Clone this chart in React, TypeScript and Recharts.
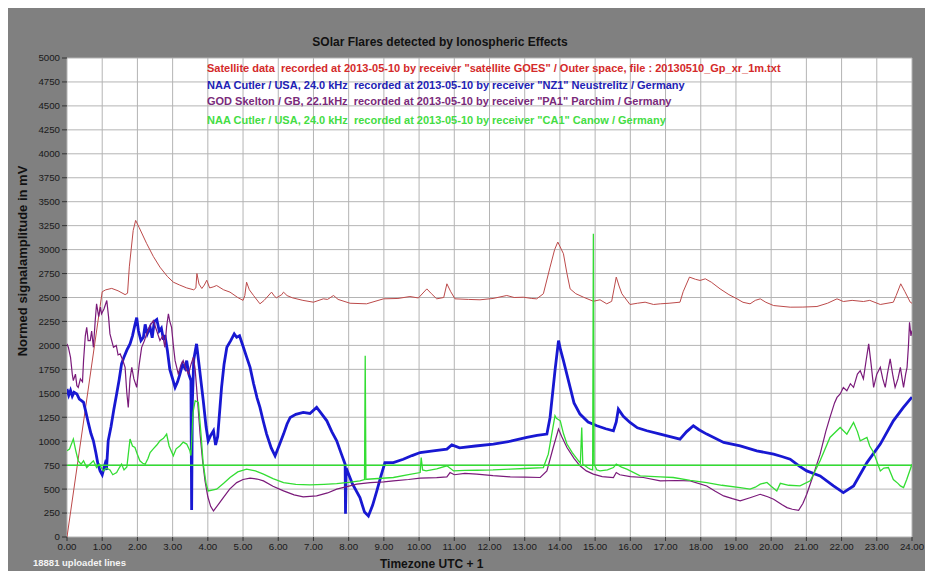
import React from "react";
import { LineChart, Line, XAxis, YAxis, CartesianGrid, ReferenceLine } from "recharts";

const TITLE = "SOlar Flares detected by Ionospheric Effects";
const LEGEND_SAT = 'Satellite data  recorded at 2013-05-10 by receiver "satellite GOES" / Outer space, file : 20130510_Gp_xr_1m.txt';
const LEGEND_NZ1 = 'NAA Cutler / USA, 24.0 kHz  recorded at 2013-05-10 by receiver "NZ1" Neustrelitz / Germany';
const LEGEND_PA1 = 'GOD Skelton / GB, 22.1kHz  recorded at 2013-05-10 by receiver "PA1" Parchim / Germany';
const LEGEND_CA1 = 'NAA Cutler / USA, 24.0 kHz  recorded at 2013-05-10 by receiver "CA1" Canow / Germany';
const Y_LABEL = "Normed signalamplitude in mV";
const X_LABEL = "Timezone UTC + 1";
const FOOTNOTE = "18881 uploadet lines";

const xTicks = [0, 1, 2, 3, 4, 5, 6, 7, 8, 9, 10, 11, 12, 13, 14, 15, 16, 17, 18, 19, 20, 21, 22, 23, 24];
const yTicks = [0, 250, 500, 750, 1000, 1250, 1500, 1750, 2000, 2250, 2500, 2750, 3000, 3250, 3500, 3750, 4000, 4250, 4500, 4750, 5000];
const thresholdLevel = 750;

// Satellite GOES
const satT = [0, 1.0, 1.1, 1.27, 1.45, 1.65, 1.72, 1.77, 1.88, 1.95, 2.05, 2.26, 2.45, 2.64, 2.85, 3.02, 3.2, 3.4, 3.6, 3.66, 3.69, 3.75, 3.83, 3.9, 3.97, 4.05, 4.15, 4.25, 4.45, 4.63, 4.85, 5.0, 5.05, 5.1, 5.18, 5.3, 5.48, 5.6, 5.81, 5.9, 5.95, 6.1, 6.15, 6.25, 6.4, 6.7, 7.0, 7.28, 7.4, 7.57, 7.7, 8.04, 8.51, 8.99, 9.4, 9.74, 9.98, 10.22, 10.35, 10.5, 10.7, 10.79, 10.9, 11.02, 11.4, 11.73, 12.1, 12.49, 12.7, 12.96, 13.2, 13.34, 13.53, 13.72, 13.85, 13.94, 14.1, 14.2, 14.29, 14.45, 14.67, 14.95, 15.14, 15.33, 15.47, 15.6, 15.68, 15.76, 15.99, 16.2, 16.42, 16.66, 16.85, 17.1, 17.41, 17.5, 17.68, 17.85, 17.98, 18.13, 18.3, 18.55, 18.8, 19.03, 19.2, 19.4, 19.55, 19.69, 19.85, 20.07, 20.54, 20.9, 21.3, 21.6, 21.87, 22.05, 22.3, 22.62, 22.8, 23.1, 23.47, 23.55, 23.68, 23.8, 23.95, 24];
const satV = [0, 2560, 2580, 2595, 2570, 2530, 2545, 2820, 3200, 3305, 3230, 3065, 2930, 2817, 2720, 2660, 2630, 2600, 2580, 2600, 2750, 2640, 2594, 2630, 2680, 2600, 2610, 2625, 2580, 2556, 2500, 2470, 2520, 2660, 2580, 2520, 2434, 2470, 2556, 2510, 2497, 2530, 2556, 2520, 2497, 2470, 2451, 2486, 2480, 2521, 2480, 2440, 2434, 2486, 2490, 2510, 2495, 2590, 2540, 2486, 2500, 2643, 2560, 2486, 2480, 2476, 2490, 2521, 2500, 2503, 2490, 2486, 2539, 2817, 3000, 3079, 2957, 2750, 2590, 2540, 2503, 2461, 2476, 2434, 2460, 2713, 2620, 2539, 2427, 2440, 2451, 2427, 2434, 2440, 2451, 2560, 2713, 2690, 2678, 2695, 2660, 2590, 2530, 2486, 2450, 2434, 2470, 2486, 2450, 2416, 2399, 2400, 2406, 2440, 2486, 2458, 2470, 2458, 2470, 2427, 2451, 2520, 2643, 2560, 2451, 2440];

// NAA Cutler, receiver NZ1 Neustrelitz
const nz1T = [0, 0.05, 0.1, 0.15, 0.2, 0.28, 0.35, 0.42, 0.47, 0.52, 0.6, 0.68, 0.75, 0.82, 0.88, 0.94, 1.0, 1.05, 1.08, 1.12, 1.17, 1.25, 1.33, 1.41, 1.48, 1.55, 1.62, 1.7, 1.79, 1.86, 1.92, 1.98, 2.03, 2.1, 2.17, 2.22, 2.28, 2.36, 2.42, 2.48, 2.55, 2.62, 2.68, 2.74, 2.78, 2.85, 2.92, 3.0, 3.07, 3.14, 3.21, 3.28, 3.35, 3.4, 3.46, 3.52, 3.54, 3.56, 3.6, 3.68, 3.75, 3.87, 3.95, 4.01, 4.08, 4.16, 4.22, 4.28, 4.39, 4.46, 4.54, 4.65, 4.75, 4.82, 4.9, 5.01, 5.1, 5.2, 5.3, 5.4, 5.48, 5.58, 5.67, 5.8, 5.91, 6.02, 6.15, 6.25, 6.34, 6.5, 6.71, 6.9, 7.09, 7.2, 7.38, 7.52, 7.66, 7.8, 7.9, 7.91, 7.93, 8.1, 8.32, 8.45, 8.56, 8.68, 8.8, 8.92, 9.03, 9.27, 9.55, 9.8, 10.03, 10.4, 10.79, 10.93, 11.15, 11.6, 12.11, 12.6, 13.06, 13.35, 13.63, 13.72, 13.86, 13.96, 14.02, 14.1, 14.29, 14.4, 14.57, 14.8, 15.05, 15.3, 15.52, 15.6, 15.66, 15.8, 15.99, 16.2, 16.47, 16.85, 17.1, 17.41, 17.6, 17.79, 17.95, 18.17, 18.65, 19.12, 19.59, 20.07, 20.3, 20.54, 20.8, 21.01, 21.39, 21.77, 22.05, 22.34, 22.72, 23.1, 23.47, 23.75, 23.95, 24];
const nz1V = [1545, 1480, 1530, 1470, 1510, 1493, 1440, 1420, 1405, 1330, 1200, 1080, 1004, 880, 760, 690, 650, 720, 760, 700, 1004, 1150, 1330, 1493, 1640, 1807, 1880, 1950, 2016, 2100, 2200, 2290, 2150, 2050, 2085, 2220, 2120, 2189, 2080, 2250, 2270, 2150, 2180, 2060, 2110, 1950, 1750, 1650, 1562, 1620, 1702, 1800, 1760, 1841, 1700, 1632, 282, 1400, 1850, 2016, 1800, 1423, 1150, 1004, 1060, 1109, 960, 1050, 1562, 1800, 1980, 2050, 2120, 2085, 2100, 1980, 1880, 1771, 1600, 1450, 1353, 1200, 1074, 930, 847, 950, 1074, 1180, 1248, 1280, 1300, 1290, 1353, 1300, 1213, 1100, 1004, 860, 760, 244, 720, 560, 411, 260, 220, 330, 481, 640, 777, 777, 812, 850, 882, 900, 917, 962, 930, 950, 970, 1000, 1039, 1060, 1074, 1248, 1736, 2050, 1950, 1841, 1562, 1400, 1283, 1200, 1161, 1130, 1109, 1200, 1335, 1260, 1196, 1140, 1109, 1074, 1050, 1022, 1100, 1161, 1120, 1074, 987, 952, 900, 865, 840, 812, 740, 690, 638, 533, 463, 533, 777, 970, 1213, 1350, 1440, 1460];

// GOD Skelton, receiver PA1 Parchim
const pa1T = [0, 0.04, 0.1, 0.15, 0.18, 0.24, 0.28, 0.32, 0.38, 0.44, 0.47, 0.52, 0.56, 0.6, 0.66, 0.7, 0.75, 0.8, 0.84, 0.9, 0.95, 0.98, 1.05, 1.13, 1.18, 1.22, 1.27, 1.32, 1.4, 1.45, 1.51, 1.58, 1.65, 1.7, 1.74, 1.79, 1.84, 1.9, 1.98, 2.05, 2.12, 2.2, 2.26, 2.35, 2.45, 2.55, 2.64, 2.72, 2.78, 2.83, 2.88, 2.92, 2.97, 3.02, 3.07, 3.16, 3.24, 3.3, 3.38, 3.45, 3.52, 3.59, 3.64, 3.68, 3.78, 3.85, 3.92, 4.0, 4.08, 4.16, 4.3, 4.44, 4.62, 4.82, 5.0, 5.2, 5.4, 5.58, 5.85, 6.15, 6.45, 6.71, 7.09, 7.4, 7.66, 7.95, 8.23, 8.61, 9.0, 9.27, 9.7, 10.03, 10.5, 10.79, 10.88, 11.0, 11.3, 11.64, 12.1, 12.59, 13.0, 13.44, 13.63, 13.81, 13.96, 14.05, 14.2, 14.4, 14.57, 14.75, 14.95, 15.2, 15.52, 15.6, 15.7, 16.0, 16.37, 16.85, 17.3, 17.7, 18.17, 18.4, 18.65, 18.9, 19.12, 19.4, 19.69, 19.9, 20.07, 20.3, 20.45, 20.6, 20.78, 20.9, 21.01, 21.2, 21.39, 21.55, 21.67, 21.8, 21.87, 21.96, 22.05, 22.15, 22.25, 22.34, 22.45, 22.53, 22.62, 22.7, 22.77, 22.84, 22.91, 23.0, 23.1, 23.17, 23.24, 23.3, 23.38, 23.45, 23.52, 23.6, 23.67, 23.72, 23.76, 23.82, 23.86, 23.9, 23.93, 23.97, 24];
const pa1V = [2016, 1980, 1876, 1700, 1632, 1700, 1580, 1562, 1650, 1620, 1841, 2100, 2189, 2050, 2050, 2150, 1980, 2250, 2434, 2300, 2400, 2329, 2380, 2469, 2300, 2120, 2050, 1980, 2000, 1900, 1911, 1850, 1771, 1500, 1353, 1650, 1771, 1650, 1562, 1800, 1980, 2050, 2120, 2200, 2259, 2150, 2050, 2100, 1980, 2200, 2329, 2250, 2189, 2000, 1841, 1702, 1800, 1841, 1750, 1702, 1800, 1876, 1750, 1562, 1074, 800, 586, 420, 320, 272, 340, 411, 500, 568, 600, 614, 605, 586, 530, 481, 440, 418, 429, 460, 499, 525, 551, 568, 575, 586, 600, 614, 620, 628, 673, 650, 665, 656, 640, 628, 625, 621, 690, 934, 1126, 1050, 934, 820, 743, 690, 656, 630, 621, 673, 650, 630, 621, 586, 590, 586, 533, 480, 429, 400, 377, 410, 446, 420, 394, 340, 307, 290, 279, 350, 446, 650, 865, 1100, 1248, 1400, 1457, 1493, 1560, 1527, 1600, 1562, 1700, 1736, 1650, 1850, 2016, 1800, 1562, 1700, 1771, 1650, 1562, 1700, 1859, 1700, 1562, 1650, 1771, 1650, 1562, 1700, 1771, 2000, 2242, 2100, 2155];

// NAA Cutler, receiver CA1 Canow
const ca1T = [0, 0.07, 0.18, 0.25, 0.32, 0.4, 0.47, 0.56, 0.65, 0.75, 0.84, 0.92, 1.03, 1.12, 1.22, 1.3, 1.41, 1.48, 1.55, 1.62, 1.7, 1.79, 1.86, 1.93, 2.0, 2.07, 2.15, 2.22, 2.3, 2.36, 2.45, 2.55, 2.64, 2.74, 2.83, 2.9, 3.02, 3.1, 3.21, 3.3, 3.4, 3.49, 3.52, 3.58, 3.64, 3.73, 3.8, 3.87, 3.95, 4.01, 4.25, 4.45, 4.63, 4.85, 5.1, 5.35, 5.58, 5.85, 6.15, 6.5, 6.9, 7.3, 7.66, 8.0, 8.32, 8.45, 8.47, 8.49, 8.52, 9.27, 9.7, 10.03, 10.06, 10.1, 10.2, 10.5, 10.79, 10.98, 11.3, 11.64, 12.1, 12.59, 13.0, 13.53, 13.67, 13.86, 13.9, 14.01, 14.1, 14.2, 14.35, 14.49, 14.58, 14.62, 14.65, 14.8, 14.86, 14.93, 14.95, 14.97, 15.05, 15.14, 15.35, 15.52, 15.6, 15.75, 15.9, 16.28, 16.85, 17.22, 17.7, 18.17, 18.6, 19.12, 19.4, 19.55, 19.69, 19.88, 20.0, 20.16, 20.26, 20.5, 20.82, 21.11, 21.39, 21.67, 21.96, 22.15, 22.34, 22.45, 22.53, 22.72, 22.8, 22.91, 23.1, 23.2, 23.33, 23.47, 23.6, 23.67, 23.76, 23.85, 24];
const ca1V = [900, 917, 1022, 900, 795, 760, 795, 725, 760, 795, 725, 760, 690, 720, 700, 650, 673, 720, 760, 700, 730, 1022, 950, 934, 860, 795, 770, 760, 820, 882, 920, 960, 1004, 1030, 1074, 950, 847, 920, 952, 990, 970, 900, 850, 1300, 1423, 1405, 1100, 760, 560, 481, 499, 560, 621, 680, 708, 690, 656, 610, 568, 550, 544, 550, 558, 570, 586, 600, 1893, 600, 603, 621, 650, 673, 830, 700, 690, 710, 743, 690, 695, 697, 700, 708, 715, 725, 865, 1266, 1240, 1213, 1080, 970, 880, 812, 770, 1143, 760, 720, 708, 700, 3166, 760, 700, 690, 700, 725, 760, 730, 708, 638, 628, 621, 590, 568, 540, 516, 499, 520, 551, 570, 530, 481, 560, 540, 533, 586, 795, 1039, 1143, 1074, 1196, 1100, 1004, 1039, 950, 882, 690, 720, 725, 600, 560, 533, 516, 600, 760];

const toRows = (t: number[], v: number[]) => t.map((h, i) => ({ t: h, v: v[i] }));
const satData = toRows(satT, satV);
const nz1Data = toRows(nz1T, nz1V);
const pa1Data = toRows(pa1T, pa1V);
const ca1Data = toRows(ca1T, ca1V);

const FONT = '"Liberation Sans", Arial, sans-serif';
const GRAY = "#808080";

const legendStyle = (top: number, color: string): React.CSSProperties => ({
  position: "absolute",
  left: 199,
  top,
  transform: "translateY(-50%)",
  color,
  fontFamily: FONT,
  fontSize: 11,
  fontWeight: "bold",
  whiteSpace: "pre",
  lineHeight: 1,
});

export default function App() {
  return (
    <div style={{ position: "relative", width: 925, height: 563, background: GRAY, overflow: "hidden" }}>
      <LineChart
        width={925}
        height={563}
        margin={{ top: 50, right: 21, bottom: 14, left: 4 }}
      >
        <CartesianGrid fill="#ffffff" stroke="#b4b4b4" strokeWidth={1} horizontalValues={yTicks} verticalValues={xTicks} />
        <XAxis
          type="number"
          dataKey="t"
          domain={[0, 24]}
          ticks={xTicks}
          allowDataOverflow
          height={20}
          axisLine={false}
          tickSize={4}
          tickMargin={2}
          tickLine={{ stroke: "#333333" }}
          tick={{ fill: "#1a1a1a", fontSize: 9.7, fontFamily: FONT }}
          tickFormatter={(v: number) => v.toFixed(2)}
          interval={0}
        />
        <YAxis
          type="number"
          domain={[0, 5000]}
          ticks={yTicks}
          allowDataOverflow
          width={55}
          axisLine={false}
          tickSize={5}
          tickMargin={2}
          tickLine={{ stroke: "#333333" }}
          tick={{ fill: "#1a1a1a", fontSize: 9.7, fontFamily: FONT }}
          interval={0}
        />
        <Line data={satData} dataKey="v" type="linear" stroke="#bc4a4a" strokeWidth={1} dot={false} isAnimationActive={false} />
        <Line data={nz1Data} dataKey="v" type="linear" stroke="#1818d2" strokeWidth={2.8} dot={false} isAnimationActive={false} />
        <Line data={pa1Data} dataKey="v" type="linear" stroke="#7a1a7a" strokeWidth={1.2} dot={false} isAnimationActive={false} />
        <Line data={ca1Data} dataKey="v" type="linear" stroke="#33dd33" strokeWidth={1.3} dot={false} isAnimationActive={false} />
        <ReferenceLine y={thresholdLevel} stroke="#33dd33" strokeWidth={1.5} ifOverflow="visible" />
      </LineChart>

      <div style={{ position: "absolute", left: 432, top: 34, transform: "translate(-50%,-50%)", fontFamily: FONT, fontSize: 12, fontWeight: "bold", color: "#111", whiteSpace: "nowrap", lineHeight: 1 }}>{TITLE}</div>

      <div style={legendStyle(60, "#d42a2a")}>{LEGEND_SAT}</div>
      <div style={legendStyle(77, "#2222b4")}>{LEGEND_NZ1}</div>
      <div style={legendStyle(93, "#7a2a7a")}>{LEGEND_PA1}</div>
      <div style={legendStyle(112, "#44dd44")}>{LEGEND_CA1}</div>

      <div style={{ position: "absolute", left: 14, top: 253, transform: "translate(-50%,-50%) rotate(-90deg)", fontFamily: FONT, fontSize: 13, fontWeight: "bold", color: "#111", whiteSpace: "nowrap", lineHeight: 1 }}>{Y_LABEL}</div>

      <div style={{ position: "absolute", left: 372, top: 556, transform: "translateY(-50%)", fontFamily: FONT, fontSize: 12, fontWeight: "bold", color: "#111", whiteSpace: "nowrap", lineHeight: 1 }}>{X_LABEL}</div>

      <div style={{ position: "absolute", left: 25, top: 555, transform: "translateY(-50%)", fontFamily: FONT, fontSize: 9.5, fontWeight: "bold", color: "#f4f4f4", whiteSpace: "nowrap", lineHeight: 1 }}>{FOOTNOTE}</div>
    </div>
  );
}
